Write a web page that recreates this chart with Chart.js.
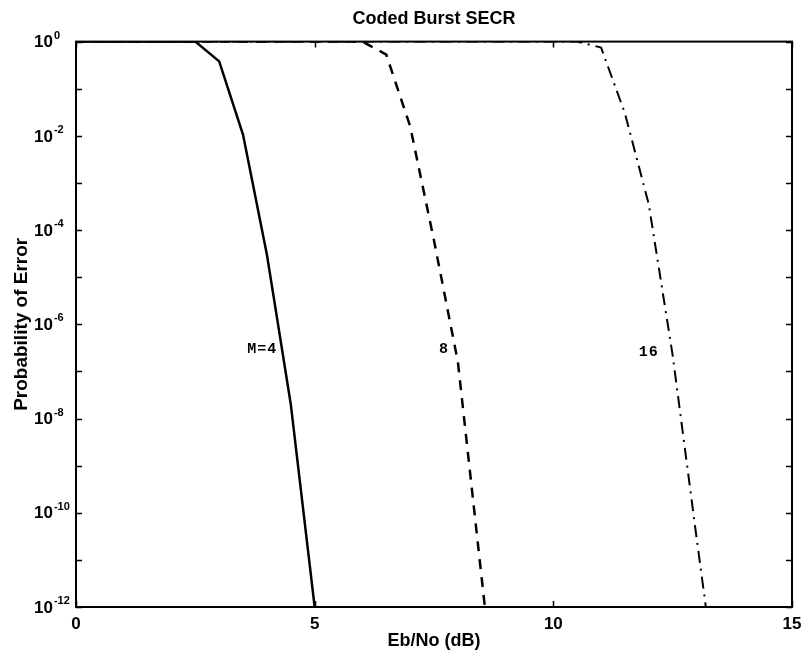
<!DOCTYPE html>
<html>
<head>
<meta charset="utf-8">
<title>Coded Burst SECR</title>
<script src="https://cdn.jsdelivr.net/npm/chart.js@4.4.1/dist/chart.umd.min.js"></script>
<style>
  html, body { margin: 0; padding: 0; background: #fff; }
  canvas { display: block; }
</style>
</head>
<body>
<canvas id="secrChart" width="809" height="658"></canvas>
<script>
// Eb/No (dB) and probability of error
const m4Db  = [0, 2.5, 3, 3.5, 4, 4.5, 5];
const m4Pe  = [1, 1, 0.38, 1.05e-2, 3e-5, 2e-8, 1e-12];
const m8Db  = [0, 6, 6.5, 7, 7.5, 8, 8.5, 9];
const m8Pe  = [1, 1, 0.53, 1.6e-2, 6e-5, 1.6e-7, 4e-12, 1e-16];
const m16Db = [0, 10.5, 11, 11.5, 12, 12.5, 13, 13.5];
const m16Pe = [1, 1, 0.75, 3e-2, 3.5e-4, 2.2e-7, 3e-11, 5e-15];

// axis ticks
const xTicks = [0, 5, 10, 15];
const yDecades = [0, -1, -2, -3, -4, -5, -6, -7, -8, -9, -10, -11, -12];
const yLabelDecades = [0, -2, -4, -6, -8, -10, -12];

// curve labels (text, Eb/No, Pe)
const curveLabels = ['M=4', '8', '16'];
const curveLabelDb = [3.9, 7.71, 12.0];
const curveLabelPe = [3e-7, 3e-7, 2.5e-7];

function points(xs, ys) {
    return xs.map((x, i) => ({ x: x, y: ys[i] }));
}

const FONT = '"Liberation Sans", Arial, Helvetica, sans-serif';
const labelFont = { family: FONT, size: 18, weight: 'bold' };

// MATLAB style box with inward ticks, 10^n labels and the curve labels
const boxPlugin = {
    id: 'matlabBox',
    afterDraw(chart) {
        const { ctx, chartArea: a, scales: { x, y } } = chart;
        const tl = 6;
        ctx.save();
        ctx.strokeStyle = '#000';
        ctx.lineWidth = 1.5;
        ctx.beginPath();
        yDecades.forEach(e => {
            const py = Math.round(y.getPixelForValue(Math.pow(10, e))) + 0.5;
            ctx.moveTo(a.left, py); ctx.lineTo(a.left + tl, py);
            ctx.moveTo(a.right, py); ctx.lineTo(a.right - tl, py);
        });
        xTicks.forEach(v => {
            const px = Math.round(x.getPixelForValue(v)) + 0.5;
            ctx.moveTo(px, a.bottom); ctx.lineTo(px, a.bottom - tl);
            ctx.moveTo(px, a.top); ctx.lineTo(px, a.top + tl);
        });
        ctx.stroke();
        ctx.lineWidth = 2;
        ctx.strokeRect(a.left, a.top, a.right - a.left, a.bottom - a.top);

        // y tick labels: "10" with a raised exponent
        ctx.fillStyle = '#000';
        ctx.textAlign = 'left';
        ctx.textBaseline = 'middle';
        const lx = 34;
        yLabelDecades.forEach(e => {
            const py = y.getPixelForValue(Math.pow(10, e));
            ctx.font = 'bold 17px ' + FONT;
            ctx.fillText('10', lx, py + 1);
            const w = ctx.measureText('10').width;
            ctx.font = 'bold 11px ' + FONT;
            ctx.fillText(String(e), lx + w + 1, py - 6);
        });

        ctx.font = 'bold 15px "Liberation Mono", "DejaVu Sans Mono", monospace';
        ctx.letterSpacing = '1px';
        ctx.textAlign = 'center';
        curveLabels.forEach((t, i) => {
            ctx.fillText(t, x.getPixelForValue(curveLabelDb[i]), y.getPixelForValue(curveLabelPe[i]));
        });
        ctx.restore();
    }
};

const ctx = document.getElementById('secrChart').getContext('2d');
new Chart(ctx, {
    type: 'line',
    data: {
        datasets: [
            {
                label: 'M=4',
                data: points(m4Db, m4Pe),
                borderColor: '#000',
                borderWidth: 2.5
            },
            {
                label: 'M=8',
                data: points(m8Db, m8Pe),
                borderColor: '#000',
                borderWidth: 2.5,
                borderDash: [10, 8]
            },
            {
                label: 'M=16',
                data: points(m16Db, m16Pe),
                borderColor: '#000',
                borderWidth: 2,
                borderDash: [12, 6, 2, 6]
            }
        ]
    },
    options: {
        responsive: false,
        animation: false,
        devicePixelRatio: 1,
        layout: { padding: { left: 0, right: 17, top: 0, bottom: 0 } },
        elements: {
            point: { radius: 0, hoverRadius: 0 },
            line: { tension: 0, fill: false }
        },
        plugins: {
            legend: { display: false },
            tooltip: { enabled: false },
            title: {
                display: true,
                text: 'Coded Burst SECR',
                color: '#000',
                fullSize: false,
                font: labelFont,
                padding: { top: 8, bottom: 12 }
            }
        },
        scales: {
            x: {
                type: 'linear',
                min: 0,
                max: 15,
                afterBuildTicks: s => { s.ticks = xTicks.map(v => ({ value: v })); },
                afterFit: s => { s.height = 51; },
                grid: { display: false },
                border: { display: false },
                ticks: { color: '#000', font: { family: FONT, size: 17, weight: 'bold' }, padding: -1, maxRotation: 0 },
                title: {
                    display: true,
                    text: 'Eb/No (dB)',
                    color: '#000',
                    font: labelFont,
                    padding: { top: 0, bottom: 6 }
                }
            },
            y: {
                type: 'logarithmic',
                min: 1e-12,
                max: 1,
                afterBuildTicks: s => { s.ticks = yDecades.map(e => ({ value: Math.pow(10, e) })); },
                afterFit: s => { s.width = 76; },
                grid: { display: false },
                border: { display: false },
                ticks: { display: false },
                title: {
                    display: true,
                    text: 'Probability of Error',
                    color: '#000',
                    font: { family: FONT, size: 19, weight: 'bold' },
                    padding: { top: 10, bottom: 0 }
                }
            }
        }
    },
    plugins: [boxPlugin]
});
</script>
</body>
</html>
